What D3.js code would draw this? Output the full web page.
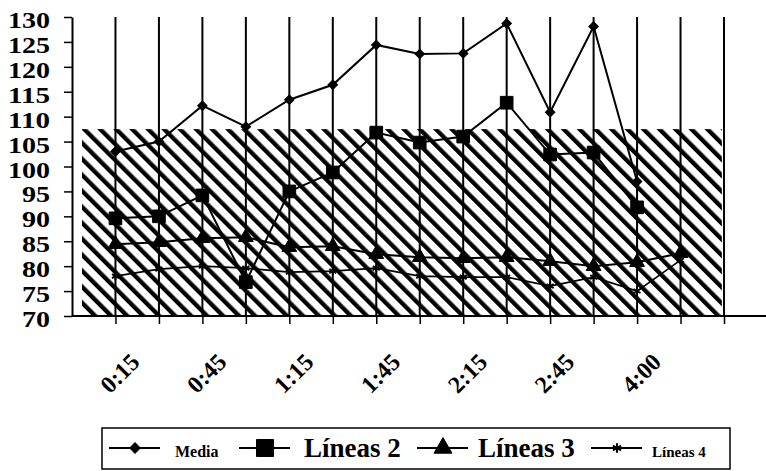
<!DOCTYPE html>
<html>
<head>
<meta charset="utf-8">
<script src="https://cdn.jsdelivr.net/npm/d3@7"></script>
<style>
  body { margin: 0; background: #fff; }
  text { font-family: 'Liberation Serif', 'Times New Roman', serif; font-weight: bold; fill: #000; }
</style>
</head>
<body>
<div id="chart"></div>
<script>
// Categories (time), only every second one gets a label
var categorias = ['0:15', '0:30', '0:45', '1:00', '1:15', '1:30', '1:45', '2:00', '2:15', '2:30', '2:45', '3:00', '4:00', '5:00', '']
var etiquetasX = ['0:15', '0:45', '1:15', '1:45', '2:15', '2:45', '4:00']

// Series values
var media = [103, 105, 112.2, 108, 113.4, 116.4, 124.4, 122.6, 122.7, 128.7, 110.9, 128.1, 97]
var lineas2 = [89.6, 90, 94.2, 76.8, 95, 98.8, 106.8, 104.8, 106, 112.8, 102.4, 102.8, 91.8]
var lineas3 = [84.4, 84.8, 85.6, 85.8, 83.8, 84, 82.4, 81.8, 81.6, 81.8, 81, 80, 80.8, 82.6]
var lineas4 = [78, 79.4, 80, 79.6, 78.8, 79, 79.6, 78, 77.8, 77.8, 76, 77.8, 75, 81.2]

// hatched band (value range and category span)
var bandaValores = [70, 107.5]
var bandaCategorias = [-0.77, 13.95]

var yTicks = d3.range(70, 131, 5)

var width = 766
var height = 471

var svg = d3
  .select('#chart')
  .append('svg')
  .attr('width', width)
  .attr('height', height)

// Scales
var xPositionScale = d3.scaleLinear().domain([-1, 14]).range([72, 724])
var yPositionScale = d3.scaleLinear().domain([70, 130]).range([316, 17])

var defs = svg.append('defs')

// hatch pattern
defs
  .append('pattern')
  .attr('id', 'rayas')
  .attr('patternUnits', 'userSpaceOnUse')
  .attr('width', 11.3)
  .attr('height', 11.3)
  .attr('patternTransform', 'rotate(-45)')
  .append('rect')
  .attr('x', 0)
  .attr('y', 0)
  .attr('width', 4.3)
  .attr('height', 11.3)
  .attr('fill', '#000')

// diagonal paths that the x labels run along
defs
  .selectAll('path')
  .data(etiquetasX)
  .enter()
  .append('path')
  .attr('id', (d, i) => 'diag' + i)
  .attr('d', d => {
    var cx = xPositionScale(categorias.indexOf(d)) + 10
    var cy = 379
    return 'M' + (cx - 40) + ',' + (cy + 40) + 'L' + (cx + 40) + ',' + (cy - 40)
  })

svg
  .append('rect')
  .attr('x', xPositionScale(bandaCategorias[0]))
  .attr('y', yPositionScale(bandaValores[1]))
  .attr('width', xPositionScale(bandaCategorias[1]) - xPositionScale(bandaCategorias[0]))
  .attr('height', yPositionScale(bandaValores[0]) - yPositionScale(bandaValores[1]))
  .attr('fill', 'url(#rayas)')

// vertical gridlines
svg
  .append('g')
  .selectAll('line')
  .data(d3.range(0, categorias.length))
  .enter()
  .append('line')
  .attr('x1', d => xPositionScale(d))
  .attr('x2', d => xPositionScale(d))
  .attr('y1', yPositionScale(130))
  .attr('y2', yPositionScale(70))
  .attr('stroke', '#000')
  .attr('stroke-width', 2)

// Axes (ticks from d3, labels added separately)
var yAxis = d3
  .axisLeft(yPositionScale)
  .tickValues(yTicks)
  .tickSize(8)
  .tickSizeOuter(0)
  .tickFormat('')

var yG = svg
  .append('g')
  .attr('class', 'axis y-axis')
  .attr('transform', 'translate(' + xPositionScale(-1) + ',0)')
  .call(yAxis)
yG.select('.domain').attr('stroke-width', 2)
yG.selectAll('line').attr('stroke-width', 1.5)

svg
  .append('g')
  .selectAll('text')
  .data(yTicks)
  .enter()
  .append('text')
  .attr('x', 50)
  .attr('y', d => yPositionScale(d) + 11)
  .attr('text-anchor', 'end')
  .attr('font-size', 24)
  .attr('textLength', d => String(d).length * 14)
  .attr('lengthAdjust', 'spacingAndGlyphs')
  .text(d => d)

var xAxis = d3
  .axisBottom(xPositionScale)
  .tickValues(d3.range(0, categorias.length))
  .tickSize(8)
  .tickSizeOuter(0)
  .tickFormat('')

var xG = svg
  .append('g')
  .attr('class', 'axis x-axis')
  .attr('transform', 'translate(0,' + yPositionScale(70) + ')')
  .call(xAxis)
xG.select('.domain').remove()
xG.selectAll('line').attr('stroke-width', 1.5)

svg
  .append('g')
  .selectAll('text')
  .data(etiquetasX)
  .enter()
  .append('text')
  .attr('font-size', 24)
  .append('textPath')
  .attr('href', (d, i) => '#diag' + i)
  .attr('startOffset', '50%')
  .attr('text-anchor', 'middle')
  .text(d => d)

// x axis line, running on past the last gridline
svg
  .append('line')
  .attr('x1', xPositionScale(-1))
  .attr('x2', width)
  .attr('y1', yPositionScale(70))
  .attr('y2', yPositionScale(70))
  .attr('stroke', '#000')
  .attr('stroke-width', 2)

// Lines
var line = d3
  .line()
  .x((d, i) => xPositionScale(i))
  .y(d => yPositionScale(d))

var series = [
  { nombre: 'Media', valores: media, simbolo: d3.symbolSquare, tam: 45, giro: 45, ancho: 2, relleno: true, legendaTam: 55, fuente: 16 },
  { nombre: 'Líneas 2', valores: lineas2, simbolo: d3.symbolSquare, tam: 160, giro: 0, ancho: 2, relleno: true, legendaTam: 290, fuente: 27 },
  { nombre: 'Líneas 3', valores: lineas3, simbolo: d3.symbolTriangle, tam: 95, giro: 0, ancho: 2, relleno: true, legendaTam: 140, fuente: 27 },
  { nombre: 'Líneas 4', valores: lineas4, simbolo: d3.symbolAsterisk, tam: 45, giro: 0, ancho: 1.6, relleno: false, legendaTam: 60, fuente: 15 }
]

series.forEach(s => {
  svg
    .append('path')
    .datum(s.valores)
    .attr('d', line)
    .attr('fill', 'none')
    .attr('stroke', '#000')
    .attr('stroke-width', s.ancho)

  svg
    .append('g')
    .selectAll('path')
    .data(s.valores)
    .enter()
    .append('path')
    .attr('d', d3.symbol().type(s.simbolo).size(s.tam))
    .attr('transform', (d, i) => 'translate(' + xPositionScale(i) + ',' + yPositionScale(d) + ') rotate(' + s.giro + ')')
    .attr('fill', s.relleno ? '#000' : 'none')
    .attr('stroke', '#000')
    .attr('stroke-width', s.relleno ? 1 : 1.8)
})

// Legend
var legendaX = [135, 265, 443, 617]
var legendaTextoX = [175, 304, 478, 652]

svg
  .append('rect')
  .attr('x', 102)
  .attr('y', 428)
  .attr('width', 628)
  .attr('height', 41)
  .attr('fill', 'none')
  .attr('stroke', '#000')
  .attr('stroke-width', 1.5)

var legend = svg
  .selectAll('.legend')
  .data(series)
  .enter()
  .append('g')
  .attr('class', 'legend')
  .attr('transform', (d, i) => 'translate(' + legendaX[i] + ',448)')

legend
  .append('line')
  .attr('x1', -26)
  .attr('x2', 25)
  .attr('stroke', '#000')
  .attr('stroke-width', 2)

legend
  .append('path')
  .attr('d', d => d3.symbol().type(d.simbolo).size(d.legendaTam)())
  .attr('transform', d => 'rotate(' + d.giro + ')')
  .attr('fill', d => (d.relleno ? '#000' : 'none'))
  .attr('stroke', '#000')
  .attr('stroke-width', d => (d.relleno ? 1 : 2))

legend
  .append('text')
  .attr('x', (d, i) => legendaTextoX[i] - legendaX[i])
  .attr('y', 9)
  .attr('font-size', d => d.fuente)
  .text(d => d.nombre)
</script>
</body>
</html>
